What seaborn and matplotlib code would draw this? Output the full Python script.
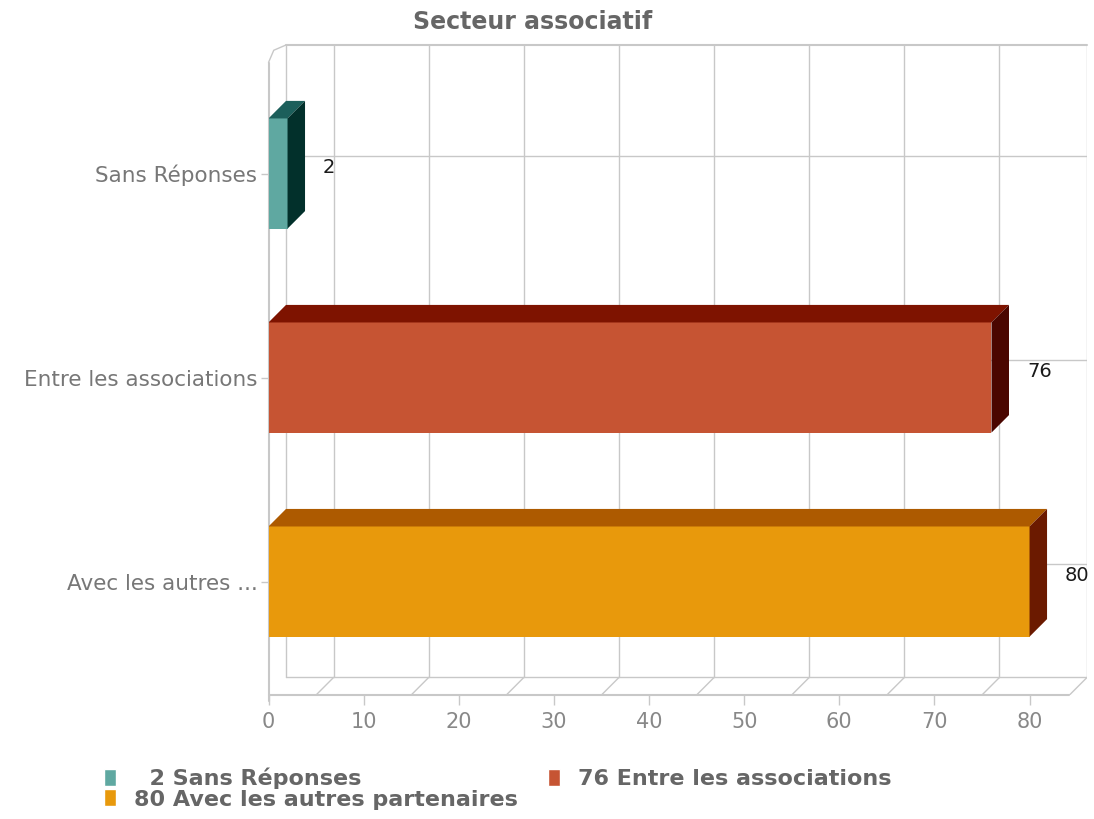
import numpy as np
import pandas as pd
import matplotlib
matplotlib.use("Agg")
import matplotlib.pyplot as plt
from matplotlib.patches import Polygon, Patch
import seaborn as sns

sns.set_theme(style="white")
plt.rcParams['font.family'] = ['DejaVu Sans']

categories = ["Sans Réponses", "Entre les associations", "Avec les autres partenaires"]
tick_labels = ["Sans Réponses", "Entre les associations", "Avec les autres ..."]
values = [2, 76, 80]
front_colors = ["#5fa8a1", "#c65433", "#e8990c"]
top_colors = ["#1c5f5b", "#7e1300", "#ad5a00"]
side_colors = ["#02302b", "#4a0600", "#6b1a00"]

x_max = 84.2      # end of the value axis (front plane)
dx, dy = 1.84, -0.086   # depth offset of the 3D box, in data units
bar_h = 0.54
grid_c = "#c8c8c8"

df = pd.DataFrame({"cat": categories, "val": values})

fig = plt.figure(figsize=(10.94, 8.19), dpi=100)
ax = fig.add_axes([268.5 / 1094, 1 - 695 / 819, (1087 - 268.5) / 1094, (695 - 45) / 819])

y_top, y_bot = -0.63, 2.556
y_floor_back = y_bot + dy

# back wall grid
for v in np.arange(5, 80, 10):
    ax.plot([v + dx, v + dx], [y_top, y_floor_back], color=grid_c, lw=1, zorder=0)
    ax.plot([v, v + dx], [y_bot, y_floor_back], color=grid_c, lw=1, zorder=0)
for c in range(len(categories)):
    ax.plot([dx, x_max + dx], [c + dy, c + dy], color=grid_c, lw=1, zorder=0)
    ax.plot([0, dx], [c, c + dy], color=grid_c, lw=1, zorder=0)
# box outline
ax.plot([dx, dx], [y_top, y_floor_back], color=grid_c, lw=1, zorder=0)
ax.plot([dx, x_max + dx], [y_top, y_top], color=grid_c, lw=1.5, zorder=0, clip_on=False)
ax.plot([x_max + dx, x_max + dx], [y_top, y_floor_back], color=grid_c, lw=1, zorder=0)
ax.plot([dx, x_max + dx], [y_floor_back, y_floor_back], color=grid_c, lw=1, zorder=0)
ax.plot([0, x_max], [y_bot, y_bot], color=grid_c, lw=1.5, zorder=0, clip_on=False)
ax.plot([x_max, x_max + dx], [y_bot, y_floor_back], color=grid_c, lw=1, zorder=0)
ax.plot([0, 0], [y_top - dy, y_bot + 0.03], color=grid_c, lw=1.5, zorder=0, clip_on=False)
ax.plot([0, dx * 0.3, dx], [y_top - dy, y_top - dy * 0.3, y_top], color=grid_c, lw=1, zorder=0,
        clip_on=False)

# front faces
sns.barplot(data=df, x="val", y="cat", hue="cat", palette=front_colors, orient="h",
            width=bar_h, legend=False, ax=ax, zorder=2, linewidth=0, saturation=1)

# top and side faces, value labels
for c, (v, tc, sc) in enumerate(zip(values, top_colors, side_colors)):
    t, b = c - bar_h / 2, c + bar_h / 2
    ax.add_patch(Polygon([(0, t), (v, t), (v + dx, t + dy), (dx, t + dy)],
                         closed=True, fc=tc, ec="none", zorder=2))
    ax.add_patch(Polygon([(v, t), (v, b), (v + dx, b + dy), (v + dx, t + dy)],
                         closed=True, fc=sc, ec="none", zorder=2))
    ax.text(v + dx + 1.9, c - 0.03, str(v), ha="left", va="center",
            fontsize=14, color="#1a1a1a", zorder=3)

ax.set_xlim(0, x_max + dx)
ax.set_ylim(y_bot, y_top)
ax.set_xticks(np.arange(0, 81, 10))
ax.set_yticks(range(len(categories)))
ax.set_yticklabels(tick_labels)
ax.set_xlabel("")
ax.set_ylabel("")
for s in ax.spines.values():
    s.set_visible(False)
ax.tick_params(axis="x", bottom=True, length=7, width=1, color=grid_c, labelsize=15,
               labelcolor="#888888", pad=5)
ax.tick_params(axis="y", left=True, length=6, width=1, color=grid_c, labelsize=15.5,
               labelcolor="#777777", pad=2)
ax.grid(False)

fig.text(0.487, 1 - 22 / 819, "Secteur associatif", ha="center", va="center",
         fontsize=17, fontweight="bold", color="#666666")

handles = [Patch(fc=front_colors[0]), Patch(fc=front_colors[2]), Patch(fc=front_colors[1])]
labels = [f"{values[0]:>3} {categories[0]}", f"{values[2]} {categories[2]}",
          f"{values[1]} {categories[1]}"]
fig.legend(handles, labels, loc="upper left", bbox_to_anchor=(95 / 1094, 1 - 759 / 819),
           ncol=2, frameon=False, handlelength=0.55, handleheight=0.8, handletextpad=0.8,
           columnspacing=1.35, labelspacing=0.0, prop={"weight": "bold", "size": 16},
           labelcolor="#666666", borderaxespad=0)

fig.savefig("out.png", dpi=100)
